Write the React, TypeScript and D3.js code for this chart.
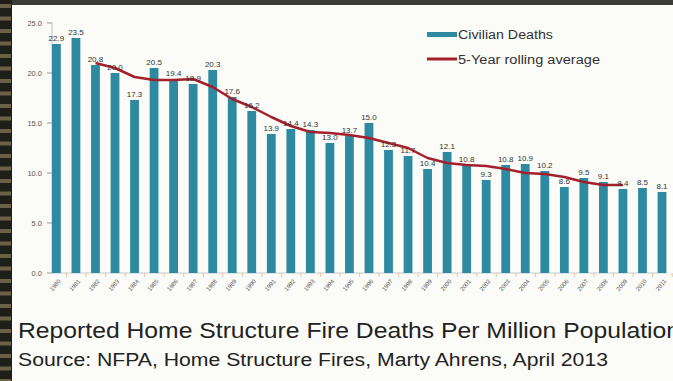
import React from "react";
import * as d3 from "d3";

const years = [1980,1981,1982,1983,1984,1985,1986,1987,1988,1989,1990,1991,1992,1993,1994,1995,1996,1997,1998,1999,2000,2001,2002,2003,2004,2005,2006,2007,2008,2009,2010,2011];
const deaths = [22.9,23.5,20.8,20.0,17.3,20.5,19.4,18.9,20.3,17.6,16.2,13.9,14.4,14.3,13.0,13.7,15.0,12.3,11.7,10.4,12.1,10.8,9.3,10.8,10.9,10.2,8.6,9.5,9.1,8.4,8.5,8.1];
const avgYears = [1982,1983,1984,1985,1986,1987,1988,1989,1990,1991,1992,1993,1994,1995,1996,1997,1998,1999,2000,2001,2002,2003,2004,2005,2006,2007,2008,2009];
const avgValues = [21.0,20.5,19.6,19.3,19.3,19.4,18.6,17.4,16.6,15.6,14.7,14.1,14.0,13.8,13.5,13.0,12.5,11.5,11.0,10.8,10.7,10.4,10.0,9.9,9.6,9.1,8.8,8.8];
const yTicks = [0,5,10,15,20,25];
const legendLabels = ["Civilian Deaths","5-Year rolling average"];
const title = "Reported Home Structure Fire Deaths Per Million Population";
const source = "Source: NFPA, Home Structure Fires, Marty Ahrens, April 2013";

const W = 673, H = 381;
const BAR = "#2e8aa0";
const RED = "#a3202c";
const FONT = "'Liberation Sans', Arial, sans-serif";

export default function App() {
  const x = d3.scaleBand<number>().domain(years).range([52, 52 + 32 * 19.2]).paddingInner(0.55).paddingOuter(0);
  const y = d3.scaleLinear().domain([0, 25]).range([273, 23]);
  const line = d3.line<number>()
    .x((_, i) => (x(avgYears[i]) as number) + x.bandwidth() / 2)
    .y((v) => y(v));
  const stripes = d3.range(0, H, 12.5);
  return (
    <svg width={W} height={H} style={{ position: "fixed", left: 0, top: 0, display: "block" }} fontFamily={FONT}>
      <rect x={0} y={0} width={W} height={H} fill="#fbfbf7" />
      <rect x={0} y={0} width={W} height={5} fill="#3d3d37" />
      <rect x={0} y={0} width={12} height={H} fill="#1f1f19" />
      {stripes.map((s, i) => (
        <rect key={i} x={0} y={s + 4} width={11} height={4} fill="#6a6247" />
      ))}
      {/* y axis */}
      <line x1={52} x2={52} y1={y(25)} y2={y(0)} stroke="#b8c4cc" strokeWidth={1} />
      {yTicks.map((t) => (
        <g key={t}>
          <line x1={47} x2={52} y1={y(t)} y2={y(t)} stroke="#999" />
          <text x={42} y={y(t) + 2.5} fontSize={7.5} textAnchor="end" fill="#555">{t.toFixed(1)}</text>
        </g>
      ))}
      {/* x axis */}
      <line x1={52} x2={666} y1={y(0)} y2={y(0)} stroke="#c8c8c8" />
      {years.map((yr) => (
        <line key={"t" + yr} x1={(x(yr) as number) + x.step() - 5} x2={(x(yr) as number) + x.step() - 5} y1={y(0)} y2={y(0) + 4} stroke="#e0c8a8" />
      ))}
      {years.map((yr, i) => (
        <rect key={"b" + yr} x={x(yr)} y={y(deaths[i])} width={x.bandwidth()} height={y(0) - y(deaths[i])} fill={BAR} />
      ))}
      <path d={line(avgValues) || ""} fill="none" stroke={RED} strokeWidth={2.5} strokeLinejoin="round" />
      {years.map((yr, i) => (
        <text key={"l" + yr} x={(x(yr) as number) + x.bandwidth() / 2} y={y(deaths[i]) - 3} fontSize={8} textAnchor="middle" fill="#333">{deaths[i].toFixed(1)}</text>
      ))}
      {years.map((yr) => {
        const cx = (x(yr) as number) + x.bandwidth() / 2 + 2;
        const cy = y(0) + 6;
        return (
          <text key={"x" + yr} x={cx} y={cy} fontSize={6} textAnchor="end" fill="#555" transform={`rotate(-50 ${cx} ${cy})`} dy="0.6em">{yr}</text>
        );
      })}
      {/* legend */}
      <rect x={427} y={32} width={30} height={5} fill={BAR} />
      <text x={458} y={39} fontSize={12} fill="#333" textLength={95} lengthAdjust="spacingAndGlyphs">{legendLabels[0]}</text>
      <line x1={427} x2={457} y1={59} y2={59} stroke={RED} strokeWidth={3} />
      <text x={458} y={63.5} fontSize={12} fill="#333" textLength={142} lengthAdjust="spacingAndGlyphs">{legendLabels[1]}</text>
      {/* titles */}
      <text x={18} y={338} fontSize={22} fill="#222" textLength={662} lengthAdjust="spacingAndGlyphs">{title}</text>
      <text x={18} y={366} fontSize={18} fill="#222" textLength={590} lengthAdjust="spacingAndGlyphs">{source}</text>
    </svg>
  );
}
